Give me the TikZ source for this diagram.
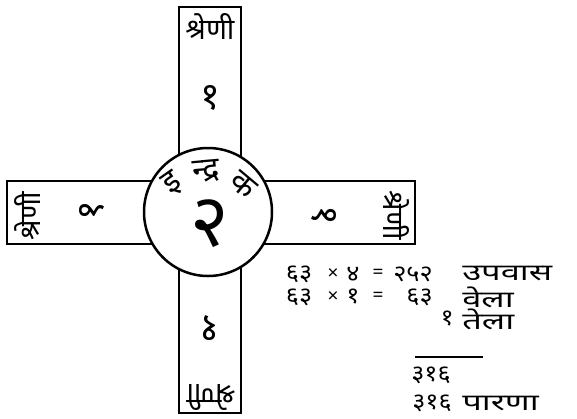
\documentclass[tikz,border=0pt]{standalone}
\usepackage{fontspec}
\newfontfamily\deva[Script=Devanagari]{Noto Sans}
\usetikzlibrary{positioning}
\tikzset{
  bar/.style={draw, line width=2.5pt},
  lbl/.style={font=\deva\fontsize{29}{30}\selectfont, inner sep=0pt},
  digit/.style={font=\deva\fontsize{38}{38}\selectfont, inner sep=0pt},
  arc/.style={font=\deva\fontsize{32}{32}\selectfont, inner sep=0pt},
  num/.style={font=\deva\fontsize{23}{23}\selectfont, inner sep=0pt, xscale=1.1},
  word/.style={font=\deva\fontsize{23}{23}\selectfont, inner sep=0pt, xscale=1.5, anchor=west},
  op/.style={font=\deva\fontsize{19}{19}\selectfont, inner sep=0pt},
}

\begin{document}
\begin{tikzpicture}[x=1pt,y=-1pt]
\useasboundingbox (0,0) rectangle (577,418);
% the cross and the centre
\draw[bar] (179,7) rectangle (241,413);
\draw[bar] (7,181) rectangle (415,244);
\draw[bar, fill=white] (208,212) circle [radius=64pt];

% arm texts
\node[lbl] (topname) at (210,27) {श्रेणी};
\node[digit] (topnum) at (210,98) {१};
\node[lbl, rotate=90] (leftname) at (28,216) {श्रेणी};
\node[digit, rotate=90] (leftnum) at (92,211) {१};
\node[lbl, rotate=-90] (rightname) at (396,215) {श्रेणी};
\node[digit, rotate=-90] (rightnum) at (324,215) {१};
\node[lbl, rotate=180] (botname) at (211,397) {श्रेणी};
\node[digit, rotate=180] (botnum) at (210,328) {१};

% text round the centre
\node[arc, rotate=35] (ci) at (173,184) {इ};
\node[arc, rotate=5] (cn) at (206,171) {न्द्र};
\node[arc, rotate=-40] (ck) at (243,185) {क};
\node[font=\deva\fontsize{74}{74}\selectfont, inner sep=0pt] (ctr) at (210,224) {२};

% the count
\node[num] (a1) at (299,274) {६३};
\node[op] (a2) at (333,274) {×};
\node[num] (a3) at (353,274) {४};
\node[op] (a4) at (378,274) {=};
\node[num, anchor=east] (a5) at (433,274) {२५२};
\node[word] (a6) at (462,274) {उपवास};

\node[num] (b1) at (299,297) {६३};
\node[op] (b2) at (333,297) {×};
\node[num] (b3) at (353,297) {१};
\node[op] (b4) at (378,297) {=};
\node[num, anchor=east] (b5) at (433,297) {६३};
\node[word] (b6) at (462,297) {वेला};

\node[num, anchor=east] (c5) at (454,319) {१};
\node[word] (c6) at (462,319) {तेला};

\coordinate (ruleL) at (415,357);
\coordinate (ruleR) at (483,357);
\draw[line width=1.8pt] (ruleL) -- (ruleR);

\node[num] (d5) at (431,375) {३१६};
\node[num] (e5) at (432,403) {३१६};
\node[word] (e6) at (462,403) {पारणा};
\end{tikzpicture}
\end{document}
